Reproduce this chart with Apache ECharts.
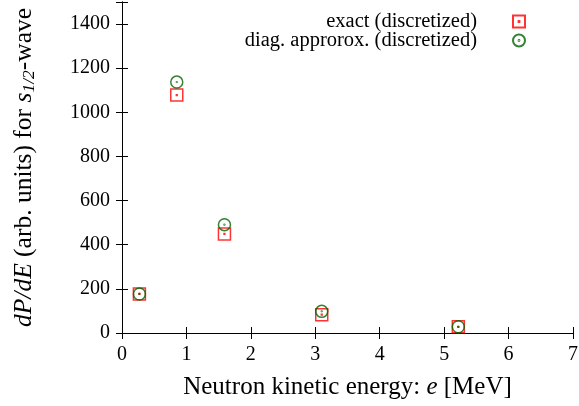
<!DOCTYPE html>
<html>
<head>
<meta charset="utf-8">
<script src="https://cdn.jsdelivr.net/npm/echarts@6/dist/echarts.min.js"></script>
<style>
  html, body { margin: 0; padding: 0; background: #fff; }
  #main { width: 579px; height: 406px; }
</style>
</head>
<body>
<div id="main"></div>
<script>
var chartDom = document.getElementById('main');
var myChart = echarts.init(chartDom);
var option;

// neutron kinetic energy [MeV]
const energy = [0.27, 0.85, 1.59, 3.10, 5.22];
const exactVals = [177, 1078, 449, 83, 28];
const diagVals = [177, 1137, 491, 98, 28];
const xTicks = [0, 1, 2, 3, 4, 5, 6, 7];

const font = 'Liberation Serif';
const sqPath = 'path://M0,0H12V12H0Z M5.6,5.6H6.4V6.4H5.6Z';
const circPath = 'path://M6,0A6,6 0 1,1 6,12A6,6 0 1,1 6,0Z M6,5.6A0.4,0.4 0 1,1 6,6.4A0.4,0.4 0 1,1 6,5.6Z';

const axisCommon = {
  axisLine: { show: true, lineStyle: { color: '#000', width: 1 } },
  axisTick: { show: true, inside: true, length: 6, lineStyle: { color: '#000' } },
  splitLine: { show: false }
};

option = {
  animation: false,
  grid: { left: 122, right: 6, top: 2, bottom: 73, containLabel: false, outerBoundsMode: 'none' },
  legend: {
    orient: 'vertical',
    right: 48,
    top: 6,
    align: 'right',
    itemWidth: 12,
    itemHeight: 12,
    itemGap: -2,
    textStyle: { fontFamily: font, fontSize: 20.5, color: '#000', padding: [0, 31, 0, 0] },
    data: ['exact (discretized)', 'diag. approrox. (discretized)']
  },
  xAxis: [
    Object.assign({
      type: 'value', min: 0, max: 7, interval: 1,
      name: '{n|Neutron kinetic energy: }{i|e}{n| [MeV]}',
      nameLocation: 'middle', nameGap: 42,
      nameTextStyle: { rich: {
        n: { fontFamily: font, fontSize: 25, color: '#000' },
        i: { fontFamily: font, fontSize: 25, fontStyle: 'italic', color: '#000' }
      } },
      axisLabel: { fontFamily: font, fontSize: 20, color: '#000', margin: 12,
        formatter: function (v) { return xTicks.indexOf(v) >= 0 ? String(v) : ''; } }
    }, axisCommon),
    Object.assign({
      type: 'value', min: 0, max: 7, interval: 1, position: 'top',
      axisLabel: { show: false }
    }, axisCommon)
  ],
  yAxis: [
    Object.assign({
      type: 'value', min: 0, max: 1500, interval: 200,
      name: '{i|dP/dE}{n| (arb. units) for }{i|s}{sub|1/2}{n|-wave}',
      nameLocation: 'middle', nameGap: 84,
      nameTextStyle: { rich: {
        n: { fontFamily: font, fontSize: 25.5, color: '#000' },
        i: { fontFamily: font, fontSize: 25.5, fontStyle: 'italic', color: '#000' },
        sub: { fontFamily: font, fontSize: 17.5, fontStyle: 'italic', color: '#000', padding: [9, 0, 0, 0] }
      } },
      axisLabel: { fontFamily: font, fontSize: 20, color: '#000', margin: 12,
        formatter: function (v) { return v % 200 === 0 && v <= 1400 ? String(v) : ''; } }
    }, axisCommon),
    Object.assign({
      type: 'value', min: 0, max: 1500, interval: 200, position: 'right',
      axisLabel: { show: false }
    }, axisCommon)
  ],
  series: [
    {
      name: 'exact (discretized)',
      type: 'scatter',
      symbol: sqPath,
      symbolSize: 12,
      itemStyle: { color: 'rgba(0,0,0,0)', borderColor: '#ff0000', borderWidth: 1.5 },
      data: energy.map((e, i) => [e, exactVals[i]])
    },
    {
      name: 'diag. approrox. (discretized)',
      type: 'scatter',
      symbol: circPath,
      symbolSize: 12,
      itemStyle: { color: 'rgba(0,0,0,0)', borderColor: '#006400', borderWidth: 1.5 },
      data: energy.map((e, i) => [e, diagVals[i]])
    }
  ]
};

option && myChart.setOption(option);

window.onresize = function() {
  myChart.resize();
};
</script>
</body>
</html>
